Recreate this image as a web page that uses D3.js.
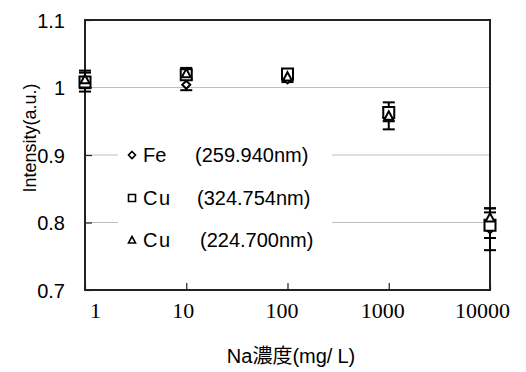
<!DOCTYPE html>
<html>
<head>
<meta charset="utf-8">
<script src="https://cdn.jsdelivr.net/npm/d3@7/dist/d3.min.js"></script>
<style>
  html, body { margin: 0; padding: 0; background: #fff; }
  svg { display: block; }
</style>
</head>
<body>
<svg id="chart" width="526" height="372"></svg>
<script>
// ---- data ----
const concentrations = [1, 10, 100, 1000, 10000];
const xTickLabels = ["1", "10", "100", "1000", "10000"];
const yTickValues = [0.7, 0.8, 0.9, 1.0, 1.1];
const yTickLabels = ["0.7", "0.8", "0.9", "1", "1.1"];
const gridValues = [0.8, 0.9, 1.0];

const feValues    = [1.005, 1.004, 1.012, 0.960, 0.790];
const feErrors    = [0.005, 0.008, 0.004, 0.010, 0.031];
const cu324Values = [1.008, 1.019, 1.020, 0.963, 0.796];
const cu324Errors = [0.014, 0.005, 0.004, 0.008, 0.019];
const cu224Values = [1.012, 1.021, 1.016, 0.958, 0.807];
const cu224Errors = [0.013, 0.008, 0.005, 0.020, 0.014];

const seriesNames = ["Fe", "Cu", "Cu"];
const seriesWaves = ["(259.940nm)", "(324.754nm)", "(224.700nm)"];
const seriesSymbols = ["diamond", "square", "triangle"];

const xTitle = ["Na濃度(mg/", "L)"];
const yTitle = "Intensity(a.u.)";

// ---- layout ----
const svg = d3.select("#chart");
const L = 85, R = 490, T = 20, B = 290;
const x = d3.scaleLog().domain([1, 10000]).range([L, R]);
const y = d3.scaleLinear().domain([0.7, 1.1]).range([B, T]);
const sansFont = "'Liberation Sans', Arial, 'Noto Sans CJK JP', sans-serif";
const serifFont = "'Liberation Serif', 'Times New Roman', serif";

// gridlines
svg.append("g").selectAll("line").data(gridValues).join("line")
  .attr("x1", L).attr("x2", R)
  .attr("y1", d => y(d)).attr("y2", d => y(d))
  .attr("stroke", "#c0c0c0").attr("stroke-width", 1);

// legend background (hides gridlines)
svg.append("rect").attr("x", 118).attr("y", 135).attr("width", 214).attr("height", 120)
  .attr("fill", "#fff");

// axes
const xAxis = d3.axisBottom(x).tickValues(concentrations)
  .tickFormat((d, i) => xTickLabels[i]).tickSizeInner(-7).tickSizeOuter(0).tickPadding(22);
const gx = svg.append("g").attr("transform", `translate(0,${B})`).call(xAxis);
gx.select(".domain").remove();
gx.selectAll(".tick line").attr("stroke", "#222").attr("stroke-width", 1.2);
const xLabelShift = [10, -3.5, -6, -6.5, -8];
gx.selectAll(".tick text")
  .attr("font-family", serifFont).attr("font-size", 22).attr("fill", "#000")
  .attr("dy", "0.28em")
  .attr("dx", (d, i) => xLabelShift[i]);

const yAxis = d3.axisLeft(y).tickValues(yTickValues)
  .tickFormat((d, i) => yTickLabels[i]).tickSizeInner(-7).tickSizeOuter(0).tickPadding(20);
const gy = svg.append("g").attr("transform", `translate(${L},0)`).call(yAxis);
gy.select(".domain").remove();
gy.selectAll(".tick line").attr("stroke", "#222").attr("stroke-width", 1.2);
gy.selectAll(".tick text")
  .attr("font-family", sansFont).attr("font-size", 20).attr("fill", "#000")
  .attr("dy", "0.36em");

// frame
svg.append("rect").attr("x", L).attr("y", T).attr("width", R - L).attr("height", B - T)
  .attr("fill", "none").attr("stroke", "#222").attr("stroke-width", 2);

// symbols
function symbolPath(type, size) {
  const s = size / 2;
  if (type === "square") return `M${-s},${-s}H${s}V${s}H${-s}Z`;
  if (type === "diamond") return `M0,${-s}L${s},0L0,${s}L${-s},0Z`;
  return `M0,${-s}L${s},${s * 0.85}L${-s},${s * 0.85}Z`;
}

const series = [
  { values: feValues, errors: feErrors, sym: "diamond", size: 8 },
  { values: cu324Values, errors: cu324Errors, sym: "square", size: 11 },
  { values: cu224Values, errors: cu224Errors, sym: "triangle", size: 9 }
];

// error bars
const eg = svg.append("g").attr("stroke", "#000").attr("stroke-width", 2);
series.forEach(s => {
  const data = concentrations.map((c, i) => ({ c, v: s.values[i], e: s.errors[i] }));
  eg.append("g").selectAll("line.v").data(data).join("line")
    .attr("x1", d => x(d.c)).attr("x2", d => x(d.c))
    .attr("y1", d => y(d.v - d.e)).attr("y2", d => y(d.v + d.e));
  eg.append("g").selectAll("line.t").data(data).join("line")
    .attr("x1", d => x(d.c) - 6).attr("x2", d => x(d.c) + 6)
    .attr("y1", d => y(d.v + d.e)).attr("y2", d => y(d.v + d.e));
  eg.append("g").selectAll("line.b").data(data).join("line")
    .attr("x1", d => x(d.c) - 6).attr("x2", d => x(d.c) + 6)
    .attr("y1", d => y(d.v - d.e)).attr("y2", d => y(d.v - d.e));
});

// markers
series.forEach(s => {
  svg.append("g").selectAll("path").data(concentrations.map((c, i) => ({ c, v: s.values[i] })))
    .join("path")
    .attr("transform", d => `translate(${x(d.c)},${y(d.v)})`)
    .attr("d", symbolPath(s.sym, s.size))
    .attr("fill", "#fff").attr("stroke", "#000").attr("stroke-width", 2);
});

// legend
const legendY = [155, 198, 240];
const waveX = [195, 197, 200];
seriesNames.forEach((name, i) => {
  svg.append("path")
    .attr("transform", `translate(132,${legendY[i]})`)
    .attr("d", symbolPath(seriesSymbols[i], 7))
    .attr("fill", "#fff").attr("stroke", "#000").attr("stroke-width", 1.6);
  svg.append("text").attr("x", 143).attr("y", legendY[i] + 7)
    .attr("font-family", sansFont).attr("font-size", 20).attr("letter-spacing", i > 0 ? 1.5 : 0)
    .text(name);
  svg.append("text").attr("x", waveX[i]).attr("y", legendY[i] + 7)
    .attr("font-family", sansFont).attr("font-size", 20)
    .text(seriesWaves[i]);
});

// axis titles
const xt = svg.append("text").attr("x", 291).attr("y", 363)
  .attr("text-anchor", "middle").attr("font-family", sansFont).attr("font-size", 20);
xt.append("tspan").text(xTitle[0]);
xt.append("tspan").attr("dx", 5).text(xTitle[1]);

svg.append("text").attr("transform", "translate(36,138) rotate(-90)")
  .attr("text-anchor", "middle").attr("font-family", sansFont).attr("font-size", 18)
  .text(yTitle);
</script>
</body>
</html>
